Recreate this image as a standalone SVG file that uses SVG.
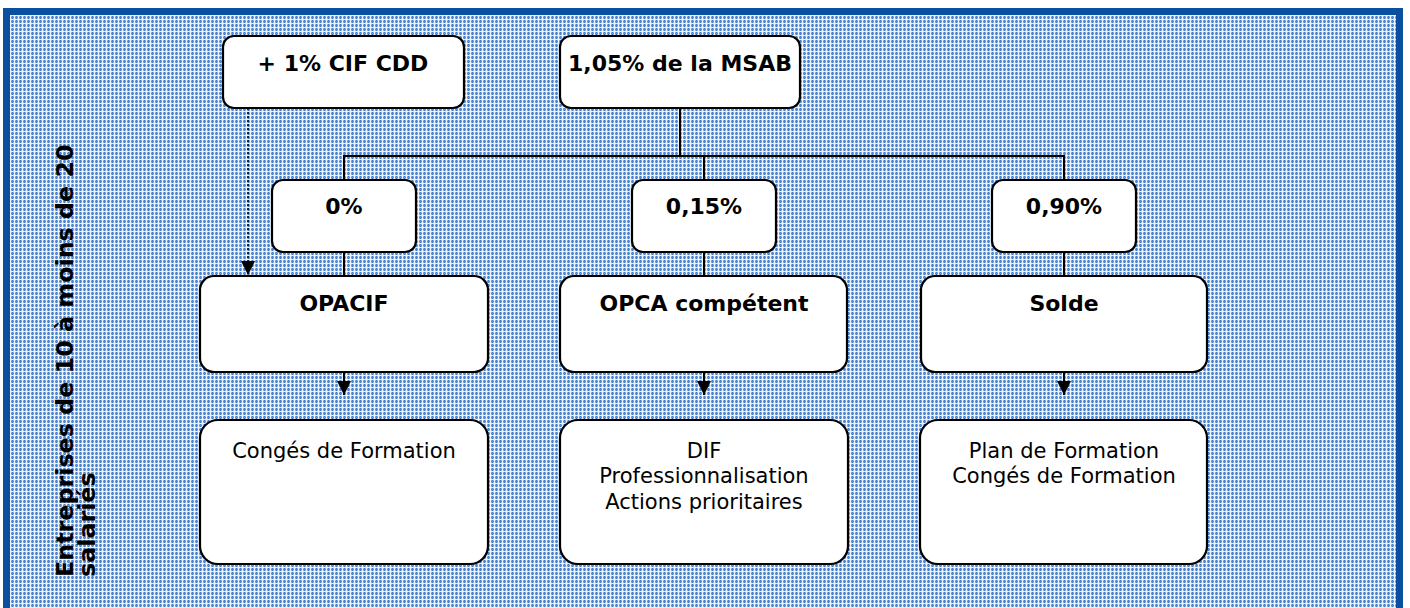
<svg xmlns="http://www.w3.org/2000/svg" width="1410" height="608" viewBox="0 0 1410 608">
<defs>
<pattern id="grid" x="10" y="15" width="4" height="4" patternUnits="userSpaceOnUse">
<rect width="4" height="4" fill="#92b3e2"/>
<rect x="0" y="0" width="4" height="1" fill="#eaf1fb"/>
<rect x="0" y="0" width="1" height="4" fill="#f0f5fc"/>
<rect x="2" y="1" width="1" height="3" fill="#4178c2"/>
<rect x="1" y="2" width="3" height="1" fill="#658fd0"/>
</pattern>
<marker id="arr" viewBox="0 0 14 14" refX="14" refY="7" markerWidth="14" markerHeight="14" markerUnits="userSpaceOnUse" orient="auto">
<path d="M0,0 L14,7 L0,14 Z" fill="#000"/>
</marker>
</defs>
<style>
.box{fill:#fff;stroke:#000;stroke-width:2.2}
.b{font-family:"DejaVu Sans",Verdana,sans-serif;font-weight:bold;font-size:22px;fill:#000;text-anchor:middle}
.r{font-family:"DejaVu Sans",Verdana,sans-serif;font-size:21px;fill:#000;text-anchor:middle}
.side{font-family:"DejaVu Sans",Verdana,sans-serif;font-weight:bold;font-size:23.8px;fill:#000;text-anchor:start}
.ln{stroke:#000;stroke-width:2;fill:none}
</style>
<rect x="0" y="0" width="1410" height="608" fill="#fff"/>
<rect x="3" y="8" width="1400" height="610" fill="#0b4f9f"/>
<rect x="10" y="15" width="1386" height="600" fill="url(#grid)"/>

<g id="side-label">
<text class="side" transform="translate(73,577) rotate(-90)">Entreprises de 10 à moins de 20</text>
<text class="side" transform="translate(95,577) rotate(-90)">salariés</text>
</g>

<g id="connectors">
<line class="ln" x1="680" y1="108" x2="680" y2="156"/>
<line class="ln" x1="343" y1="156" x2="1065" y2="156"/>
<line class="ln" x1="344" y1="156" x2="344" y2="180"/>
<line class="ln" x1="704" y1="156" x2="704" y2="180"/>
<line class="ln" x1="1064" y1="156" x2="1064" y2="180"/>
<line class="ln" x1="344" y1="252" x2="344" y2="276"/>
<line class="ln" x1="704" y1="252" x2="704" y2="276"/>
<line class="ln" x1="1064" y1="252" x2="1064" y2="276"/>
<line x1="248" y1="108" x2="248" y2="275" stroke="#000" stroke-width="1.5" stroke-dasharray="2,2" marker-end="url(#arr)"/>
<line class="ln" x1="344" y1="372" x2="344" y2="395" marker-end="url(#arr)"/>
<line class="ln" x1="704" y1="372" x2="704" y2="395" marker-end="url(#arr)"/>
<line class="ln" x1="1064" y1="372" x2="1064" y2="395" marker-end="url(#arr)"/>
</g>

<g id="n-cif">
<rect class="box" x="223" y="36" width="241" height="72" rx="11"/>
<text class="b" x="343" y="71">+ 1% CIF CDD</text>
</g>
<g id="n-msab">
<rect class="box" x="560" y="36" width="240" height="72" rx="11"/>
<text class="b" x="680" y="71">1,05% de la MSAB</text>
</g>
<g id="n-0">
<rect class="box" x="272" y="180" width="144" height="72" rx="11"/>
<text class="b" x="344" y="214">0%</text>
</g>
<g id="n-015">
<rect class="box" x="632" y="180" width="144" height="72" rx="11"/>
<text class="b" x="704" y="214">0,15%</text>
</g>
<g id="n-090">
<rect class="box" x="992" y="180" width="144" height="72" rx="11"/>
<text class="b" x="1064" y="214">0,90%</text>
</g>
<g id="n-opacif">
<rect class="box" x="200" y="276" width="288" height="96" rx="14"/>
<text class="b" x="344" y="311">OPACIF</text>
</g>
<g id="n-opca">
<rect class="box" x="560" y="276" width="287" height="96" rx="14"/>
<text class="b" x="704" y="311">OPCA compétent</text>
</g>
<g id="n-solde">
<rect class="box" x="921" y="276" width="286" height="96" rx="14"/>
<text class="b" x="1064" y="311">Solde</text>
</g>
<g id="n-conges">
<rect class="box" x="200" y="420" width="288" height="144" rx="18"/>
<text class="r" x="344" y="458">Congés de Formation</text>
</g>
<g id="n-dif">
<rect class="box" x="560" y="420" width="288" height="144" rx="18"/>
<text class="r" x="704" y="458">DIF</text>
<text class="r" x="704" y="483">Professionnalisation</text>
<text class="r" x="704" y="509">Actions prioritaires</text>
</g>
<g id="n-plan">
<rect class="box" x="920" y="420" width="287" height="144" rx="18"/>
<text class="r" x="1064" y="458">Plan de Formation</text>
<text class="r" x="1064" y="483">Congés de Formation</text>
</g>
</svg>
